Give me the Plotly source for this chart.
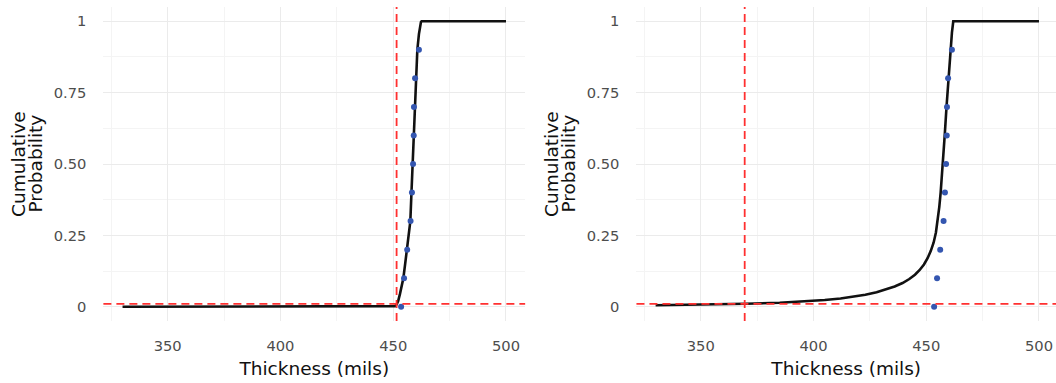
import plotly.graph_objects as go

# Observed sample (sorted thickness) and plotting positions
obs_thickness = [453.5, 454.8, 456.2, 457.7, 458.3, 458.8, 459.1, 459.2, 459.7, 461.4]
obs_prob = [0.0, 0.1, 0.2, 0.3, 0.4, 0.5, 0.6, 0.7, 0.8, 0.9]

# Left panel fitted CDF
left_x = [330, 400, 450, 450.8, 451.5, 452.2, 453.0, 453.7, 454.5, 455.3, 456.0, 456.8, 457.6,
          458.1, 458.6, 459.0, 459.4, 459.9, 460.7, 461.4, 461.9, 462.3, 462.6, 500]
left_p = [0.0, 0.0, 0.0, 0.002, 0.008, 0.02, 0.045, 0.075, 0.1, 0.15, 0.2, 0.25, 0.3,
          0.4, 0.5, 0.6, 0.7, 0.8, 0.9, 0.955, 0.985, 0.997, 1.0, 1.0]

# Right panel fitted CDF
right_x = [330, 350, 370, 385, 397, 405, 412, 418, 423, 428, 432, 436, 439.5, 442.5, 445,
           447, 449, 450.6, 452, 453.3, 454.3, 455.1, 455.8, 456.4, 457.4, 458.2, 459.0,
           459.8, 460.7, 461.4, 462.0, 500]
right_p = [0.005, 0.007, 0.0105, 0.014, 0.019, 0.0235, 0.029, 0.035, 0.042, 0.051, 0.060,
           0.071, 0.083, 0.097, 0.112, 0.128, 0.148, 0.17, 0.195, 0.225, 0.26, 0.3, 0.35,
           0.4, 0.5, 0.6, 0.7, 0.8, 0.9, 0.96, 1.0, 1.0]

# Reference lines
h_ref = 0.01
left_v_ref = 451.5
right_v_ref = 369.5

x_ticks = [350, 400, 450, 500]
y_ticks = [0, 0.25, 0.5, 0.75, 1]
y_ticktext = ["0", "0.25", "0.50", "0.75", "1"]
y_title_lines = ["Cumulative", "Probability"]
x_title = "Thickness (mils)"

RED = "#ff3030"
BLUE = "#3456b0"

fig = go.Figure()

panels = [
    ("x", "y", left_x, left_p, left_v_ref),
    ("x2", "y2", right_x, right_p, right_v_ref),
]
for xa, ya, cx, cp, vref in panels:
    fig.add_trace(go.Scatter(x=cx, y=cp, mode="lines", xaxis=xa, yaxis=ya,
                             line=dict(color="#111111", width=2.6),
                             showlegend=False))
    fig.add_trace(go.Scatter(x=obs_thickness, y=obs_prob, mode="markers", xaxis=xa, yaxis=ya,
                             marker=dict(color=BLUE, size=6), showlegend=False))
    fig.add_shape(type="line", xref=xa + " domain", yref=ya, x0=0, x1=1, y0=h_ref, y1=h_ref,
                  line=dict(color=RED, width=1.8, dash="8px,5px"), layer="above")
    fig.add_shape(type="line", xref=xa, yref=ya + " domain", x0=vref, x1=vref, y0=0, y1=1,
                  line=dict(color=RED, width=1.8, dash="8px,5px"), layer="above")

GRID = "#ebebeb"
MINOR = "#f4f4f4"
tickfont = dict(family="DejaVu Sans", size=14.7, color="#4d4d4d")
titlefont = dict(family="DejaVu Sans", size=18.5, color="#111111")

xcommon = dict(tickvals=x_ticks, showline=False, zeroline=False, showgrid=True,
               gridcolor=GRID, gridwidth=1, tickfont=tickfont, ticks="",
               ticklabelstandoff=14,
               minor=dict(tick0=325, dtick=50, showgrid=True, gridcolor=MINOR, gridwidth=1),
               title=dict(text=x_title, font=titlefont, standoff=9))
ycommon = dict(tickvals=y_ticks, ticktext=y_ticktext, range=[-0.05, 1.05], showline=False,
               zeroline=False, showgrid=True, gridcolor=GRID, gridwidth=1, tickfont=tickfont,
               ticks="", ticklabelstandoff=16,
               minor=dict(tick0=0.125, dtick=0.25, showgrid=True, gridcolor=MINOR, gridwidth=1))

fig.update_layout(
    width=1056, height=383,
    margin=dict(l=0, r=0, t=7, b=62),
    paper_bgcolor="white", plot_bgcolor="white",
    xaxis=dict(domain=[0.0979, 0.4973], range=[321.5, 508.5], anchor="y", **xcommon),
    yaxis=dict(domain=[0, 1], anchor="x", **ycommon),
    xaxis2=dict(domain=[0.6027, 1.0], range=[321.5, 507.55], anchor="y2", **xcommon),
    yaxis2=dict(domain=[0, 1], anchor="x2", **ycommon),
)

# Two-line rotated y titles with tight line spacing (as in the reference)
for offset in (0, 533):
    for i, txt in enumerate(y_title_lines):
        fig.add_annotation(text=txt, textangle=-90, xref="paper", yref="paper",
                           x=(18 + 16.5 * i + offset) / 1056, y=0.5,
                           xanchor="center", yanchor="middle", showarrow=False,
                           font=titlefont)

fig.write_html("out.html")
